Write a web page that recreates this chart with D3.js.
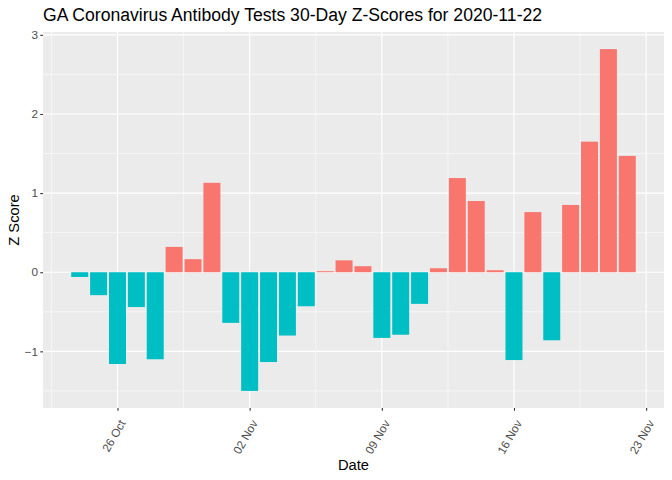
<!DOCTYPE html>
<html>
<head>
<meta charset="utf-8">
<script src="https://cdn.jsdelivr.net/npm/d3@7"></script>
<style>
  body { margin: 0; background: #fff; }
  svg { display: block; font-family: "Liberation Sans", Arial, sans-serif; }
</style>
</head>
<body>
<svg id="chart" width="672" height="480"></svg>
<script>
const startDate = "2020-10-24";
const zScores = [
  -0.06, -0.29, -1.16, -0.44, -1.10, 0.32, 0.165, 1.13, -0.64, -1.50,
  -1.135, -0.80, -0.43, 0.013, 0.15, 0.076, -0.83, -0.79, -0.40, 0.05,
  1.19, 0.90, 0.025, -1.11, 0.76, -0.86, 0.85, 1.65, 2.82, 1.47
];
const xTickLabels = ["26 Oct", "02 Nov", "09 Nov", "16 Nov", "23 Nov"];
const xTickDates = ["2020-10-26", "2020-11-02", "2020-11-09", "2020-11-16", "2020-11-23"];
const yTicks = [-1, 0, 1, 2, 3];
const title = "GA Coronavirus Antibody Tests 30-Day Z-Scores for 2020-11-22";

const DAY = 86400000;
const parse = d3.utcParse("%Y-%m-%d");
const t0 = parse(startDate);
const data = zScores.map((v, i) => ({ date: new Date(t0.getTime() + i * DAY), value: v }));

const svg = d3.select("#chart");
const m = { left: 43, right: 8, top: 32, bottom: 72 };
const W = 672, H = 480;
const pw = W - m.left - m.right, ph = H - m.top - m.bottom;

// ggplot-like expanded domains
const xMin = data[0].date.getTime() - 0.45 * DAY;
const xMax = data[data.length - 1].date.getTime() + 0.45 * DAY;
const xPad = (xMax - xMin) * 0.05;
const x = d3.scaleUtc().domain([new Date(xMin - xPad), new Date(xMax + xPad)]).range([m.left, m.left + pw]);

const yLo = d3.min(zScores), yHi = d3.max(zScores);
const yPad = (yHi - yLo) * 0.05;
const y = d3.scaleLinear().domain([yLo - yPad, yHi + yPad]).range([m.top + ph, m.top]);

// panel
svg.append("rect").attr("x", m.left).attr("y", m.top).attr("width", pw).attr("height", ph).attr("fill", "#EBEBEB");

const g = svg.append("g");
// minor y grid
const yMinor = [-1.5, -0.5, 0.5, 1.5, 2.5];
g.selectAll(".ymin").data(yMinor).enter().append("line")
  .attr("x1", m.left).attr("x2", m.left + pw)
  .attr("y1", d => y(d)).attr("y2", d => y(d))
  .attr("stroke", "#fff").attr("stroke-width", 0.55);
// minor x grid
const majorDates = xTickDates.map(parse);
const xMinor = [new Date(majorDates[0].getTime() - 3.5 * DAY)].concat(
  majorDates.slice(0, -1).map(d => new Date(d.getTime() + 3.5 * DAY)));
g.selectAll(".xmin").data(xMinor).enter().append("line")
  .attr("y1", m.top).attr("y2", m.top + ph)
  .attr("x1", d => x(d)).attr("x2", d => x(d))
  .attr("stroke", "#fff").attr("stroke-width", 0.55);
// major grid
g.selectAll(".ymaj").data(yTicks).enter().append("line")
  .attr("x1", m.left).attr("x2", m.left + pw)
  .attr("y1", d => y(d)).attr("y2", d => y(d))
  .attr("stroke", "#fff").attr("stroke-width", 1.1);
g.selectAll(".xmaj").data(majorDates).enter().append("line")
  .attr("y1", m.top).attr("y2", m.top + ph)
  .attr("x1", d => x(d)).attr("x2", d => x(d))
  .attr("stroke", "#fff").attr("stroke-width", 1.1);

// bars
const bw = x(new Date(t0.getTime() + 0.9 * DAY)) - x(t0);
svg.append("g").selectAll("rect").data(data).enter().append("rect")
  .attr("x", d => x(d.date) - bw / 2)
  .attr("width", bw)
  .attr("y", d => y(Math.max(0, d.value)))
  .attr("height", d => Math.abs(y(d.value) - y(0)))
  .attr("fill", d => d.value > 0 ? "#F8766D" : "#00BFC4");

// y axis
const yAxis = d3.axisLeft(y).tickValues(yTicks).tickSize(2.75).tickPadding(2.2).tickFormat(d3.format("d"));
const ya = svg.append("g").attr("transform", `translate(${m.left},0)`).call(yAxis);
ya.select(".domain").remove();
ya.selectAll(".tick line").attr("stroke", "#333333").attr("stroke-width", 1.1);
ya.selectAll(".tick text").attr("fill", "#4D4D4D").attr("font-size", "11.7px").attr("font-family", "Liberation Sans, Arial, sans-serif");

// x axis
const xAxis = d3.axisBottom(x).tickValues(majorDates).tickSize(2.75).tickFormat((d, i) => xTickLabels[i]);
const xa = svg.append("g").attr("transform", `translate(0,${m.top + ph})`).call(xAxis);
xa.select(".domain").remove();
xa.selectAll(".tick line").attr("stroke", "#333333").attr("stroke-width", 1.1);
xa.selectAll(".tick text")
  .attr("fill", "#4D4D4D").attr("font-size", "11.7px").attr("font-family", "Liberation Sans, Arial, sans-serif")
  .attr("text-anchor", "end")
  .attr("y", 0).attr("dy", 0)
  .attr("transform", "translate(8,15) rotate(-60)");

// titles
svg.append("text").attr("x", m.left).attr("y", 21).attr("font-size", "17.6px").attr("fill", "#000").text(title);
svg.append("text").attr("x", m.left + pw / 2).attr("y", 470).attr("text-anchor", "middle").attr("font-size", "14.7px").attr("fill", "#000").text("Date");
svg.append("text").attr("transform", `translate(19,${m.top + ph / 2}) rotate(-90)`).attr("text-anchor", "middle").attr("font-size", "14.7px").attr("fill", "#000").text("Z Score");
</script>
</body>
</html>
